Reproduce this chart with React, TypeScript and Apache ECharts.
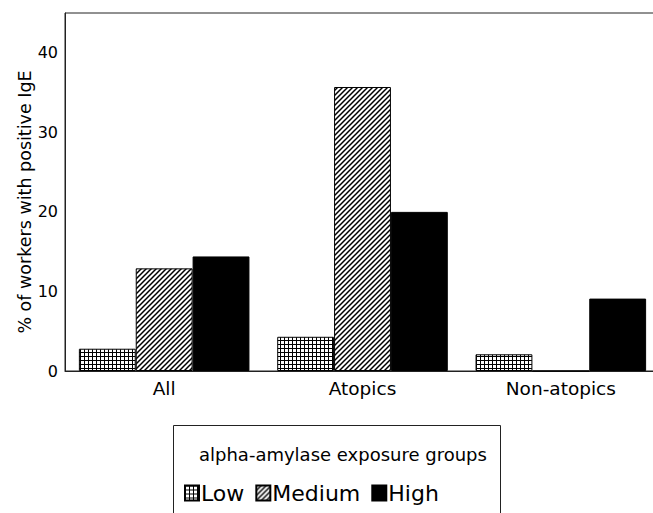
import React, { useEffect, useRef } from "react";
import * as echarts from "echarts";

const categories = ["All", "Atopics", "Non-atopics"];
const seriesNames = ["Low", "Medium", "High"];
const lowValues = [2.8, 4.3, 2.1];
const mediumValues = [12.9, 35.7, 0];
const highValues = [14.4, 20.0, 9.1];
const yMin = 0;
const yMax = 45;
const yInterval = 10;
const yAxisName = "% of workers with positive IgE";
const legendTitle = "alpha-amylase exposure groups";

const FONT = "DejaVu Sans";

function makeGridPattern() {
  const c = document.createElement("canvas");
  c.width = 4;
  c.height = 4;
  const ctx = c.getContext("2d")!;
  ctx.fillStyle = "#fff";
  ctx.fillRect(0, 0, 4, 4);
  ctx.fillStyle = "#000";
  ctx.fillRect(0, 0, 1, 4);
  ctx.fillRect(0, 0, 4, 1);
  return c;
}

function makeHatchPattern() {
  const s = 5;
  const c = document.createElement("canvas");
  c.width = s;
  c.height = s;
  const ctx = c.getContext("2d")!;
  ctx.fillStyle = "#fff";
  ctx.fillRect(0, 0, s, s);
  ctx.strokeStyle = "#000";
  ctx.lineWidth = 1.5;
  ctx.beginPath();
  ctx.moveTo(0, s);
  ctx.lineTo(s, 0);
  ctx.moveTo(-1, 1);
  ctx.lineTo(1, -1);
  ctx.moveTo(s - 1, s + 1);
  ctx.lineTo(s + 1, s - 1);
  ctx.stroke();
  return c;
}

export default function App() {
  const ref = useRef<HTMLDivElement>(null);

  useEffect(() => {
    if (!ref.current) return;
    const chart = echarts.init(ref.current, undefined, { renderer: "svg" });
    const gridCanvas = makeGridPattern();
    const hatchCanvas = makeHatchPattern();
    const fills: any[] = [
      { image: gridCanvas, repeat: "repeat", imageWidth: 4, imageHeight: 4 },
      { image: hatchCanvas, repeat: "repeat", imageWidth: 5, imageHeight: 5 },
      "#000",
    ];
    const values = [lowValues, mediumValues, highValues];

    chart.setOption({
      animation: false,
      backgroundColor: "#fff",
      grid: {
        left: 65,
        top: 13,
        width: 595,
        height: 358,
        show: true,
        borderColor: "#222",
        borderWidth: 1,
        containLabel: false,
        outerBoundsMode: "none",
      },
      xAxis: {
        type: "category",
        data: categories,
        axisTick: { show: false },
        axisLine: { show: true, lineStyle: { color: "#222", width: 1 } },
        axisLabel: {
          color: "#000",
          fontFamily: FONT,
          fontSize: 18.5,
          margin: 8,
        },
      },
      yAxis: {
        type: "value",
        min: yMin,
        max: yMax,
        interval: yInterval,
        name: yAxisName,
        nameLocation: "middle",
        nameGap: 31,
        nameMoveOverlap: false,
        nameTextStyle: {
          color: "#000",
          fontFamily: FONT,
          fontSize: 17.5,
          padding: [0, 20, 0, 0],
        },
        axisLine: { show: true, lineStyle: { color: "#222", width: 1 } },
        axisTick: { show: false },
        splitLine: { show: false },
        axisLabel: {
          color: "#000",
          fontFamily: FONT,
          fontSize: 16,
          margin: 7,
          showMaxLabel: false,
        },
      },
      legend: {
        data: seriesNames,
        left: 184,
        top: 481,
        padding: 0,
        itemWidth: 14,
        itemHeight: 15,
        itemGap: 11,
        icon: "rect",
        textStyle: {
          color: "#000",
          fontFamily: FONT,
          fontSize: 22,
          lineHeight: 24,
          padding: [0, 0, 0, -3],
        },
      },
      graphic: [
        {
          type: "rect",
          shape: { x: 173.5, y: 425.5, width: 327, height: 120 },
          style: { fill: "#fff", stroke: "#222", lineWidth: 1 },
          z: -1,
          silent: true,
        },
        {
          type: "text",
          x: 199,
          y: 454,
          style: {
            text: legendTitle,
            fill: "#000",
            font: `18px "${FONT}"`,
            textVerticalAlign: "middle",
            verticalAlign: "middle",
          },
          silent: true,
        },
      ],
      series: seriesNames.map((name, i) => ({
        name,
        type: "bar",
        data: values[i],
        barGap: "0%",
        barCategoryGap: "14%",
        itemStyle: {
          color: fills[i],
          borderColor: "#000",
          borderWidth: 1,
        },
      })),
    });

    return () => {
      chart.dispose();
    };
  }, []);

  return (
    <div
      ref={ref}
      style={{ position: "absolute", left: 0, top: 0, width: 653, height: 513 }}
    />
  );
}
